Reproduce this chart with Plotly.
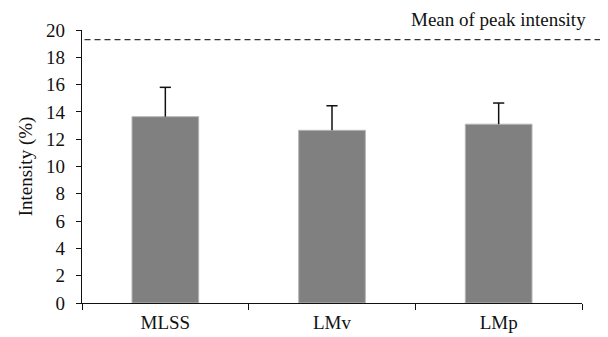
import plotly.graph_objects as go

categories = ["MLSS", "LMv", "LMp"]
intensity = [13.65, 12.65, 13.1]
error_up = [2.15, 1.8, 1.55]
peak_mean = 19.3
y_ticks = [0, 2, 4, 6, 8, 10, 12, 14, 16, 18, 20]

FONT = "Liberation Serif"
FS = 19

fig = go.Figure()
fig.add_trace(go.Bar(
    x=categories, y=intensity, width=0.4,
    marker=dict(color="#808080", line=dict(color="#b4b4b4", width=1)),
    error_y=dict(type="data", symmetric=False, array=error_up,
                 arrayminus=[0, 0, 0], color="#111111", thickness=1.5, width=0),
    showlegend=False,
))
# caps on the top of the error bars
fig.add_trace(go.Scatter(
    x=categories, y=[v + e for v, e in zip(intensity, error_up)],
    mode="markers",
    marker=dict(symbol="line-ew", size=8, line=dict(color="#111111", width=1.5)),
    showlegend=False, hoverinfo="skip",
))

fig.add_shape(type="line", xref="paper", yref="y", x0=0.005, x1=1.06,
              y0=peak_mean, y1=peak_mean,
              line=dict(color="#333333", width=1.3, dash="6px,4px"))
fig.add_annotation(xref="paper", yref="paper", x=0.833, y=1.08,
                   text="Mean of peak intensity", showarrow=False,
                   xanchor="center", yanchor="top", borderpad=0,
                   font=dict(family=FONT, size=FS, color="#111111"))

# the page has an 8px body margin, so the figure is sized to fit inside the window
fig.update_layout(
    width=600, height=329,
    margin=dict(l=74, r=26, t=22, b=34, autoexpand=False),
    paper_bgcolor="white", plot_bgcolor="white",
    font=dict(family=FONT, size=FS, color="#111111"),
    bargap=0.6,
)
fig.update_xaxes(
    type="category", range=[-0.5, 2.5], tickson="boundaries",
    showline=True, linecolor="#111111", linewidth=1.2,
    ticks="outside", ticklen=6, tickcolor="#111111", tickwidth=1.2,
    ticklabelstandoff=2,
    showgrid=False, zeroline=False, automargin=False,
    tickfont=dict(family=FONT, size=FS, color="#111111"),
)
fig.update_yaxes(
    range=[0, 20], tickvals=y_ticks,
    showline=True, linecolor="#111111", linewidth=1.2,
    ticks="outside", ticklen=5, tickcolor="#111111", tickwidth=1.2,
    ticklabelstandoff=7,
    showgrid=False, zeroline=False, automargin=False,
    title=dict(text="Intensity (%)", font=dict(family=FONT, size=FS, color="#111111"), standoff=8),
    tickfont=dict(family=FONT, size=FS, color="#111111"),
)

fig.write_html("out.html")
